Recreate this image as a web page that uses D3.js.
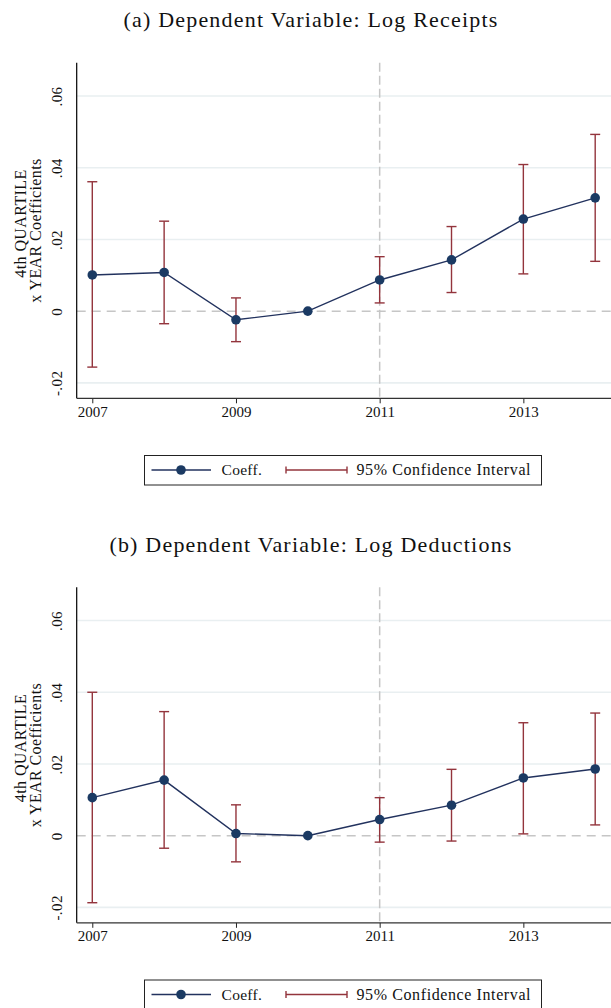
<!DOCTYPE html>
<html>
<head>
<meta charset="utf-8">
<script src="https://cdn.jsdelivr.net/npm/d3@7"></script>
<style>
  html, body { margin: 0; padding: 0; background: #fff; }
  svg { display: block; }
  text { font-family: "Liberation Serif", "DejaVu Serif", serif; fill: #111; }
</style>
</head>
<body>
<svg id="chart" width="611" height="1008"></svg>
<script>
// Event-study coefficients by year (4th quartile x year interaction)
const years = [2007, 2008, 2009, 2010, 2011, 2012, 2013, 2014];

// Panel (a): log receipts
const receiptsCoef  = [0.0101, 0.0108, -0.0024, 0.0000, 0.0087, 0.0143, 0.0257, 0.0316];
const receiptsLower = [-0.0156, -0.0035, -0.0085, null, 0.0023, 0.0052, 0.0104, 0.0139];
const receiptsUpper = [0.0361, 0.0251, 0.0037, null, 0.0152, 0.0236, 0.0409, 0.0493];

// Panel (b): log deductions
const deductCoef  = [0.0106, 0.0155, 0.0006, 0.0000, 0.0045, 0.0085, 0.0161, 0.0186];
const deductLower = [-0.0187, -0.0035, -0.0073, null, -0.0018, -0.0015, 0.0005, 0.0030];
const deductUpper = [0.0400, 0.0346, 0.0086, null, 0.0106, 0.0185, 0.0315, 0.0342];

const yTicks = [-0.02, 0, 0.02, 0.04, 0.06];
const yTickLabels = ["-.02", "0", ".02", ".04", ".06"];
const xTicks = [2007, 2009, 2011, 2013];
const refYear = 2011;

const panels = [
  { title: "(a) Dependent Variable: Log Receipts", coef: receiptsCoef, lower: receiptsLower, upper: receiptsUpper },
  { title: "(b) Dependent Variable: Log Deductions", coef: deductCoef, lower: deductLower, upper: deductUpper }
];

const colCoef = "#1b3a63";
const colLine = "#22325e";
const colCI = "#93343c";
const colGrid = "#e9eff1";
const colRef = "#c6c6c6";

const svg = d3.select("#chart");

const plot = { left: 76.7, right: 611, top: 62.7, bottom: 398.3 };
const panelStep = 524.5;

const x = d3.scaleLinear().domain([2006.783, 2014.22]).range([plot.left, plot.right]);
const y = d3.scaleLinear().domain([-0.0243, 0.0693]).range([plot.bottom, plot.top]);

panels.forEach((p, i) => {
  const g = svg.append("g").attr("transform", `translate(0,${i * panelStep})`);

  // title
  g.append("text")
    .attr("x", 311).attr("y", 27)
    .attr("text-anchor", "middle")
    .style("font-size", "22px")
    .style("letter-spacing", "1.2px")
    .text(p.title);

  // horizontal grid
  g.append("g").selectAll("line").data(yTicks.filter(d => d !== 0)).join("line")
    .attr("x1", plot.left).attr("x2", plot.right)
    .attr("y1", d => y(d)).attr("y2", d => y(d))
    .attr("stroke", colGrid).attr("stroke-width", 1.6);

  // zero reference line
  g.append("line")
    .attr("x1", plot.left).attr("x2", plot.right)
    .attr("y1", y(0)).attr("y2", y(0))
    .attr("stroke", colRef).attr("stroke-width", 1.5)
    .attr("stroke-dasharray", "9,6");

  // vertical reference year line
  g.append("line")
    .attr("x1", x(refYear)).attr("x2", x(refYear))
    .attr("y1", plot.top).attr("y2", plot.bottom)
    .attr("stroke", colRef).attr("stroke-width", 1.5)
    .attr("stroke-dasharray", "9,4");

  // y axis
  const yAxis = d3.axisLeft(y).tickValues(yTicks).tickSize(0)
    .tickFormat((d, k) => yTickLabels[k]);
  const ya = g.append("g").attr("transform", `translate(${plot.left},0)`).call(yAxis);
  ya.select(".domain").remove();
  ya.append("line")
    .attr("x1", 0).attr("x2", 0).attr("y1", plot.top).attr("y2", plot.bottom)
    .attr("stroke", "#000").attr("stroke-width", 1.2);
  ya.selectAll(".tick text")
    .attr("x", 0).attr("dy", null)
    .attr("transform", d => `translate(-14.5,0) rotate(-90)`)
    .attr("text-anchor", "middle")
    .style("font-family", "'Liberation Serif', serif")
    .style("font-size", "15px")
    .style("letter-spacing", "0.4px")
    .attr("fill", "#111");

  // y axis title
  const tg = g.append("g")
    .attr("transform", `translate(0,${(plot.top + plot.bottom) / 2}) rotate(-90)`);
  tg.append("text").attr("x", 7).attr("y", 26).attr("text-anchor", "middle")
    .style("font-size", "16px").style("letter-spacing", "0.4px").text("4th QUARTILE");
  tg.append("text").attr("x", 0).attr("y", 40.5).attr("text-anchor", "middle")
    .style("font-size", "16px").style("letter-spacing", "0.4px").text("x YEAR Coefficients");

  // x axis
  const xAxis = d3.axisBottom(x).tickValues(xTicks).tickSize(5)
    .tickFormat(d3.format("d")).tickPadding(3);
  const xa = g.append("g").attr("transform", `translate(0,${plot.bottom})`).call(xAxis);
  xa.select(".domain").remove();
  xa.append("line")
    .attr("x1", plot.left).attr("x2", plot.right).attr("y1", 0).attr("y2", 0)
    .attr("stroke", "#333").attr("stroke-width", 1.2);
  xa.selectAll(".tick line").attr("stroke", "#222");
  xa.selectAll(".tick text")
    .style("font-family", "'Liberation Serif', serif")
    .style("font-size", "15px")
    .attr("fill", "#111");

  // confidence intervals
  const ci = years.map((yr, k) => ({ yr, lo: p.lower[k], hi: p.upper[k] })).filter(d => d.lo !== null);
  const capW = 5;
  const cg = g.append("g").attr("stroke", colCI).attr("stroke-width", 1.4).attr("fill", "none");
  cg.selectAll("line.v").data(ci).join("line").attr("class", "v")
    .attr("x1", d => x(d.yr)).attr("x2", d => x(d.yr))
    .attr("y1", d => y(d.lo)).attr("y2", d => y(d.hi));
  cg.selectAll("line.t").data(ci).join("line").attr("class", "t")
    .attr("x1", d => x(d.yr) - capW).attr("x2", d => x(d.yr) + capW)
    .attr("y1", d => y(d.hi)).attr("y2", d => y(d.hi));
  cg.selectAll("line.b").data(ci).join("line").attr("class", "b")
    .attr("x1", d => x(d.yr) - capW).attr("x2", d => x(d.yr) + capW)
    .attr("y1", d => y(d.lo)).attr("y2", d => y(d.lo));

  // coefficient line and markers
  const pts = years.map((yr, k) => ({ yr, v: p.coef[k] }));
  g.append("path").datum(pts)
    .attr("d", d3.line().x(d => x(d.yr)).y(d => y(d.v)))
    .attr("fill", "none").attr("stroke", colLine).attr("stroke-width", 1.4);
  g.append("g").selectAll("circle").data(pts).join("circle")
    .attr("cx", d => x(d.yr)).attr("cy", d => y(d.v)).attr("r", 4.8)
    .attr("fill", colCoef);

  // legend
  const lg = g.append("g").attr("transform", "translate(0,455)");
  lg.append("rect").attr("x", 144.5).attr("y", 0.5).attr("width", 397).attr("height", 29.5)
    .attr("fill", "#fff").attr("stroke", "#222").attr("stroke-width", 1);
  const ly = 15;
  lg.append("line").attr("x1", 151.5).attr("x2", 211).attr("y1", ly).attr("y2", ly)
    .attr("stroke", colLine).attr("stroke-width", 1.4);
  lg.append("circle").attr("cx", 181).attr("cy", ly).attr("r", 4.8).attr("fill", colCoef);
  lg.append("text").attr("x", 221.5).attr("y", ly + 5).style("font-size", "15.5px")
    .style("letter-spacing", "0.3px").text("Coeff.");
  const lc = lg.append("g").attr("stroke", colCI).attr("stroke-width", 1.4);
  lc.append("line").attr("x1", 286).attr("x2", 347).attr("y1", ly).attr("y2", ly);
  lc.append("line").attr("x1", 286).attr("x2", 286).attr("y1", ly - 3.5).attr("y2", ly + 3.5);
  lc.append("line").attr("x1", 347).attr("x2", 347).attr("y1", ly - 3.5).attr("y2", ly + 3.5);
  lg.append("text").attr("x", 356.5).attr("y", ly + 5).style("font-size", "16px")
    .style("letter-spacing", "0.6px").text("95% Confidence Interval");
});
</script>
</body>
</html>
